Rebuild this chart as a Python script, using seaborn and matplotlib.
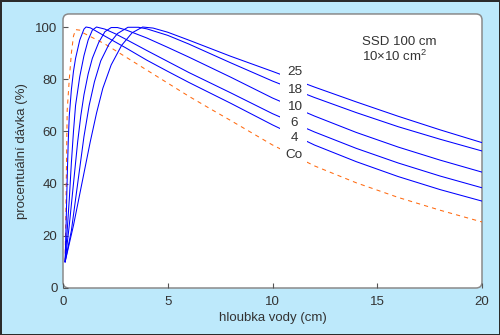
import matplotlib
matplotlib.use("Agg")
import matplotlib.pyplot as plt
from matplotlib.patches import FancyBboxPatch
import numpy as np
import pandas as pd
import seaborn as sns

# Percentage depth dose, SSD 100 cm, 10x10 cm2 field
depth_co = [0.1, 0.14, 0.17, 0.2, 0.3, 0.4, 0.5, 0.6, 0.8, 1.0, 2, 3, 4, 5, 6, 7, 8, 10, 12, 14, 16, 18, 20]
dose_co = [10, 30, 50, 68, 80, 90, 96.5, 99, 98.8, 97.6, 93.5, 88.5, 83.5, 78.5, 73.5, 68.8, 64.2, 54.8, 46.8, 40.3, 34.7, 29.8, 25.3]

depth_4 = [0.1, 0.15, 0.2, 0.25, 0.3, 0.4, 0.5, 0.6, 0.8, 1.0, 1.1, 1.3, 1.5, 2, 3, 4, 5, 6, 8, 10, 12, 14, 16, 18, 20]
dose_4 = [10, 25, 42, 56, 66, 76, 83, 88, 95, 99.2, 100, 99.7, 98.8, 96.5, 92, 87.3, 83, 78.8, 70.8, 62.5, 54.8, 48.4, 42.7, 37.7, 33.3]

depth_6 = [0.1, 0.2, 0.3, 0.4, 0.5, 0.6, 0.8, 1.0, 1.2, 1.4, 1.6, 2, 2.5, 3, 4, 5, 6, 8, 10, 12, 14, 16, 18, 20]
dose_6 = [10, 22, 34, 48, 60, 70, 81, 89, 95, 98.8, 100, 99.2, 97.4, 95.3, 91, 86.8, 82.6, 74.8, 66.8, 59.8, 53.5, 47.9, 42.9, 38.4]

depth_10 = [0.1, 0.3, 0.5, 0.7, 0.85, 1.0, 1.2, 1.4, 1.7, 2.0, 2.3, 2.6, 3, 4, 5, 6, 8, 10, 12, 14, 16, 18, 20]
dose_10 = [10, 24, 40, 56, 66, 74, 82, 88, 94, 98.2, 99.8, 99.8, 98.9, 95.8, 92.2, 88.5, 80.8, 72.8, 65.9, 59.6, 54.0, 49.0, 44.4]

depth_18 = [0.1, 0.4, 0.7, 1.0, 1.25, 1.5, 1.8, 2.2, 2.6, 3.1, 3.6, 4, 5, 6, 8, 10, 12, 14, 16, 18, 20]
dose_18 = [10, 22, 40, 58, 70, 79, 87, 93.5, 97.5, 99.9, 99.9, 99.3, 96.8, 93.5, 86.3, 79.3, 73.0, 67.2, 61.8, 57.0, 52.5]

depth_25 = [0.1, 0.5, 0.9, 1.3, 1.6, 1.9, 2.3, 2.8, 3.3, 3.8, 4.3, 5, 6, 8, 10, 12, 14, 16, 18, 20]
dose_25 = [10, 24, 40, 56, 67, 76.5, 85.5, 93, 97.8, 100, 99.6, 98.0, 95.0, 88.8, 83.0, 77.0, 71.3, 65.8, 60.6, 55.7]

beams = ["Co", "4", "6", "10", "18", "25"]
depths = [depth_co, depth_4, depth_6, depth_10, depth_18, depth_25]
doses = [dose_co, dose_4, dose_6, dose_10, dose_18, dose_25]

# label positions next to the curves (depth, dose)
label_depth = 11.05
label_dose = [51.0, 57.6, 63.3, 69.5, 75.9, 82.9]

x_ticks = [0, 5, 10, 15, 20]
y_ticks = [0, 20, 40, 60, 80, 100]

frames = []
for b, d, v in zip(beams, depths, doses):
    frames.append(pd.DataFrame({"depth": d, "dose": v, "beam": b}))
df = pd.concat(frames, ignore_index=True)

sns.set_theme(style="white")
plt.rcParams["font.family"] = ["Liberation Sans", "DejaVu Sans"]
plt.rcParams["mathtext.fontset"] = "custom"
plt.rcParams["mathtext.rm"] = "Liberation Sans"
plt.rcParams["mathtext.it"] = "Liberation Sans"

text_col = "#333333"
bg = "#bde9fb"

fig = plt.figure(figsize=(5.0, 3.35), dpi=100)
fig.patch.set_facecolor(bg)
fig.patch.set_edgecolor("#2b2b2b")
fig.patch.set_linewidth(2.0)

ax_left, ax_bottom, ax_w, ax_h = 0.126, 0.1403, 0.838, 0.818
ax = fig.add_axes([ax_left, ax_bottom, ax_w, ax_h])
ax.set_facecolor("none")
for s in ax.spines.values():
    s.set_visible(False)

# rounded white plot frame
frame = FancyBboxPatch((ax_left * 5.0, ax_bottom * 3.35), ax_w * 5.0, ax_h * 3.35,
                       boxstyle="round,pad=0,rounding_size=0.06",
                       transform=fig.dpi_scale_trans, facecolor="white",
                       edgecolor="#8a8a8a", linewidth=1.1, zorder=-1)
fig.add_artist(frame)

palette = {b: "#0000ff" for b in beams}
palette["Co"] = "#ff6a10"
dash_map = {b: "" for b in beams}
dash_map["Co"] = (4.0, 4.0)

sns.lineplot(data=df, x="depth", y="dose", hue="beam", style="beam",
             palette=palette, dashes=dash_map, estimator=None, sort=False,
             legend=False, linewidth=0.75, ax=ax)

# break in the curves where the labels sit
ax.axvspan(10.36, 11.67, ymin=0.38, ymax=0.86, facecolor="white", lw=0, zorder=3)
for b, yv in zip(beams, label_dose):
    ax.text(label_depth, yv, b, ha="center", va="center", fontsize=9.7,
            color=text_col, zorder=4)

ax.text(14.26, 94.4, "SSD 100 cm", ha="left", va="center", fontsize=9.5, color=text_col)
ax.text(14.26, 88.6, r"10×10 cm$^{2}$", ha="left", va="center", fontsize=9.5, color=text_col)

ax.set_xlim(0, 20)
ax.set_ylim(0, 105)
ax.set_xticks(x_ticks)
ax.set_yticks(y_ticks)
ax.tick_params(axis="both", direction="in", length=3.6, width=0.8, color="#555555",
               labelsize=9.5, labelcolor=text_col, left=True, bottom=True)
ax.tick_params(axis="x", pad=6)
ax.tick_params(axis="y", pad=4)
ax.set_xlabel("hloubka vody (cm)", fontsize=9.5, color=text_col, labelpad=3)
ax.set_ylabel("procentuální dávka (%)", fontsize=9.5, color=text_col, labelpad=5)

fig.savefig("out.png", dpi=100, facecolor=bg, edgecolor=fig.patch.get_edgecolor())
